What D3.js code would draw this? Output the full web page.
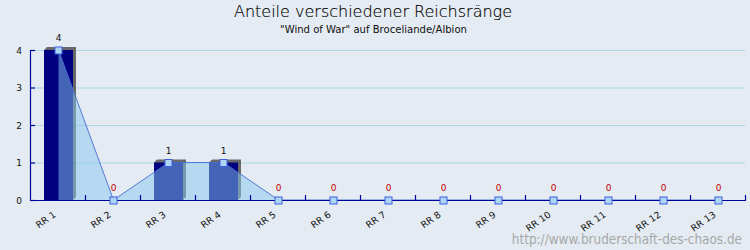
<!DOCTYPE html>
<html><head><meta charset="utf-8">
<script src="https://cdn.jsdelivr.net/npm/d3@7"></script>
<style>
html,body{margin:0;padding:0;background:#e4ebf2;}
svg{display:block;}
</style></head>
<body>
<svg id="chart" width="750" height="250"></svg>
<script>
const categories = ["RR 1","RR 2","RR 3","RR 4","RR 5","RR 6","RR 7","RR 8","RR 9","RR 10","RR 11","RR 12","RR 13"];
const values = [4,0,1,1,0,0,0,0,0,0,0,0,0];
const yTicks = [0,1,2,3,4];
const title = "Anteile verschiedener Reichsränge";
const subtitle = "\"Wind of War\" auf Broceliande/Albion";
const watermark = "http://www.bruderschaft-des-chaos.de";

const svg = d3.select("#chart");
svg.append("rect").attr("width",750).attr("height",250).attr("fill","#e4ebf2");

const x = d3.scaleBand().domain(categories).range([31, 746]);
const y = d3.scaleLinear().domain([0,4]).range([200,50]);
const cx = c => x(c) + x.bandwidth()/2;
const barW = 29, dep = 3;

// gridlines
svg.append("g").selectAll("line").data(yTicks.filter(t=>t>0)).join("line")
  .attr("x1",31).attr("x2",745).attr("y1",d=>y(d)+0.5).attr("y2",d=>y(d)+0.5)
  .attr("stroke","#a9d6e6").attr("stroke-width",1);

// bars with 3D shadow
const data = categories.map((c,i)=>({c, v:values[i]}));
const bars = svg.append("g");
data.filter(d=>d.v>0).forEach(d=>{
  const x0 = cx(d.c)-barW/2, x1 = cx(d.c)+barW/2, yt = y(d.v), yb = y(0);
  bars.append("polygon")
    .attr("points",[[x0,yt],[x0+dep,yt-dep],[x1+dep,yt-dep],[x1+dep,yb-dep],[x1,yb]].map(p=>p.join(",")).join(" "))
    .attr("fill","#686868");
  bars.append("rect").attr("x",x0).attr("y",yt).attr("width",barW).attr("height",yb-yt).attr("fill","#000080");
});

// area
const area = d3.area().x(d=>cx(d.c)).y0(y(0)).y1(d=>y(d.v));
svg.append("path").datum(data).attr("d",area).attr("fill","#87c8f0").attr("fill-opacity",0.5);
const line = d3.line().x(d=>cx(d.c)).y(d=>y(d.v));
svg.append("path").datum(data).attr("d",line).attr("fill","none").attr("stroke","#4a6cd4").attr("stroke-width",0.9);

// axes
const ax = svg.append("g").attr("stroke","#00009c").attr("stroke-width",1.2);
ax.append("line").attr("x1",30.5).attr("x2",30.5).attr("y1",50).attr("y2",200.5);
ax.append("line").attr("x1",30).attr("x2",746).attr("y1",200.5).attr("y2",200.5);
ax.selectAll(".yt").data(yTicks).join("line").attr("class","yt")
  .attr("x1",30.5).attr("x2",35).attr("y1",d=>y(d)+0.5).attr("y2",d=>y(d)+0.5);
ax.selectAll(".xt").data(categories).join("line").attr("class","xt")
  .attr("x1",d=>x(d)+x.bandwidth()-0.5).attr("x2",d=>x(d)+x.bandwidth()-0.5).attr("y1",195).attr("y2",200);

// y tick labels
svg.append("g").selectAll("text").data(yTicks).join("text")
  .attr("x",22).attr("y",d=>y(d)+3.5).attr("text-anchor","end")
  .attr("font-family","DejaVu Sans").attr("font-size",9).attr("fill","#111").text(d=>d);

// x labels
svg.append("g").selectAll("text").data(categories).join("text")
  .attr("transform",d=>`translate(${cx(d)-2},${216}) rotate(-35)`)
  .attr("text-anchor","end")
  .attr("font-family","DejaVu Sans").attr("font-size",9.3).attr("fill","#111").text(d=>d);

// points
svg.append("g").selectAll("rect").data(data).join("rect")
  .attr("x",d=>cx(d.c)-3.5).attr("y",d=>y(d.v)-3).attr("width",7).attr("height",7)
  .attr("fill","#acd6f2").attr("stroke","#3c5ee0").attr("stroke-width",1);

// value labels
svg.append("g").selectAll("text").data(data).join("text")
  .attr("x",d=>cx(d.c)).attr("y",d=>y(d.v)-9).attr("text-anchor","middle")
  .attr("font-family","DejaVu Sans").attr("font-size",9)
  .attr("fill",d=>d.v>0?"#111":"#c00000").text(d=>d.v);

// titles
svg.append("text").attr("x",373).attr("y",17).attr("text-anchor","middle")
  .attr("font-family","DejaVu Sans").attr("font-weight",200).attr("font-size",16).attr("fill","#000")
  .attr("stroke","#000").attr("stroke-width",0.15).text(title);
svg.append("text").attr("x",373.5).attr("y",33).attr("text-anchor","middle")
  .attr("font-family","DejaVu Sans Condensed").attr("font-stretch","condensed").attr("font-size",11.2).attr("fill","#111").text(subtitle);
svg.append("text").attr("x",742).attr("y",244).attr("text-anchor","end")
  .attr("font-family","DejaVu Sans Condensed").attr("font-stretch","condensed").attr("font-weight",300).attr("font-size",13.4).attr("fill","#a8a8a8").text(watermark);
</script>
</body></html>
